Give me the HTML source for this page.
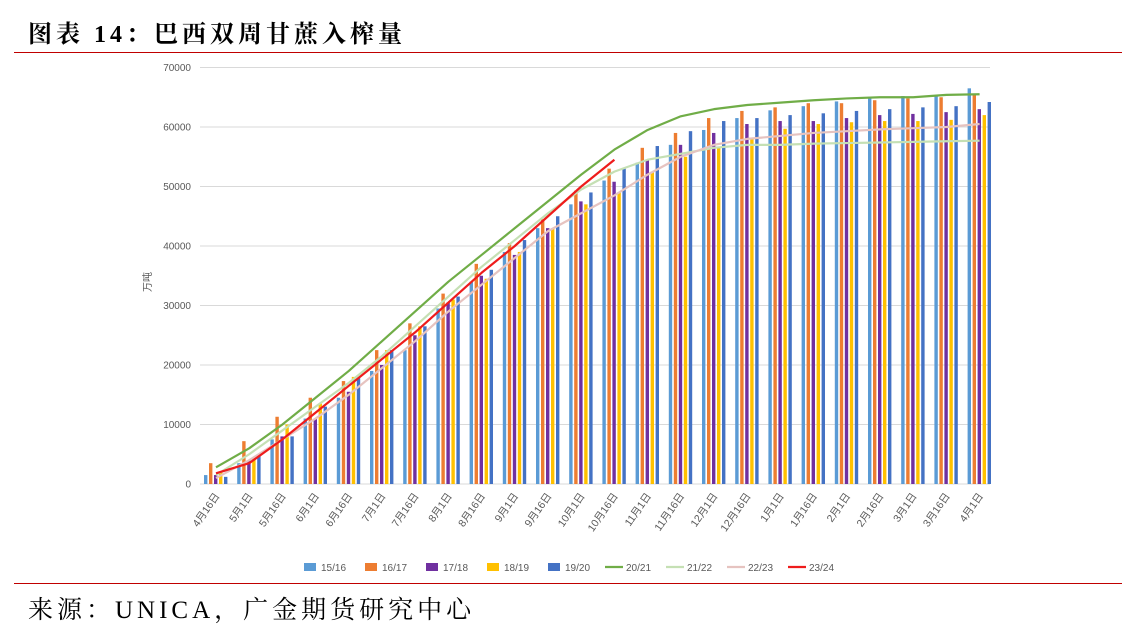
<!DOCTYPE html>
<html><head><meta charset="utf-8"><style>
body{margin:0;background:#fff;width:1140px;height:632px;overflow:hidden;position:relative;font-family:"Liberation Serif","Noto Serif CJK SC",serif}
.t{position:absolute;left:28px;top:14px;font-size:24px;color:#000;letter-spacing:4px;font-weight:bold}
.hl{position:absolute;left:14px;width:1108px;height:1px;background:#c00000}
.s{position:absolute;left:28px;top:590px;font-size:25px;color:#000;letter-spacing:4px}
</style></head><body>
<div class="t">图表 14：巴西双周甘蔗入榨量</div>
<div class="hl" style="top:52px"></div>
<div class="hl" style="top:583px"></div>
<div class="s">来源：UNICA，广金期货研究中心</div>
<svg id="c" width="1140" height="632" style="position:absolute;left:0;top:0" font-family="Liberation Sans, Noto Sans CJK SC, sans-serif"></svg>
<script>
const svg=document.getElementById('c');let h='';
const y0=484,py=59.5/10000,cx=i=>216+33.2*i,Y=v=>y0-v*py;
for(let k=0;k<=7;k++){const y=Y(k*10000);h+=`<line x1="200" x2="990" y1="${y}" y2="${y}" stroke="#d9d9d9" stroke-width="1"/>`;h+=`<text x="191" y="${y+3.5}" font-size="10" fill="#595959" text-anchor="end">${k*10000}</text>`;}
h+=`<text x="0" y="0" font-size="10" fill="#595959" transform="translate(151,282) rotate(-90)" text-anchor="middle">万吨</text>`;
const labs=['4月16日','5月1日','5月16日','6月1日','6月16日','7月1日','7月16日','8月1日','8月16日','9月1日','9月16日','10月1日','10月16日','11月1日','11月16日','12月1日','12月16日','1月1日','1月16日','2月1日','2月16日','3月1日','3月16日','4月1日'];
labs.forEach((l,i)=>{h+=`<text font-size="10.5" fill="#595959" text-anchor="end" transform="translate(${cx(i)+4},496) rotate(-55)">${l}</text>`;});
const bars=[
['#5b9bd5',[1500,3500,7500,11000,14500,19000,22500,29500,34000,39000,43000,47000,51000,54000,57000,59500,61500,62800,63500,64300,65000,65200,65300,66500]],
['#ed7d31',[3500,7200,11300,14500,17300,22500,27000,32000,37000,40500,44500,49300,53000,56500,59000,61500,62700,63300,64000,64000,64500,64800,65000,65500]],
['#7030a0',[1500,4000,8000,11000,15500,20000,25000,30500,35000,38500,43000,47500,50800,54500,57000,59000,60500,61000,61000,61500,62000,62200,62500,63000]],
['#ffc000',[2000,4500,10000,13500,18000,22500,26500,31000,34500,39000,43000,47000,49000,52500,55000,56500,58000,59700,60500,60800,61000,61000,61200,62000]],
['#4472c4',[1200,5000,8000,13000,17800,22500,26500,31500,36000,41000,45000,49000,53000,56800,59300,61000,61500,62000,62300,62700,63000,63300,63500,64200]]];
bars.forEach((b,j)=>b[1].forEach((v,i)=>{const x=cx(i)-12+j*5;h+=`<rect x="${x}" y="${Y(v)}" width="3.4" height="${v*py}" fill="${b[0]}"/>`;}));
const lines=[
['#70ad47',[2800,6000,10000,14500,19000,24000,29000,34000,38500,43000,47500,52000,56200,59500,61800,63000,63700,64100,64500,64800,65000,65000,65400,65500]],
['#c5e0b4',[1500,5000,9000,13000,17000,21500,26500,31500,36500,41000,45500,49500,52500,54500,55500,56500,57000,57000,57200,57300,57400,57500,57600,57700]],
['#e6c3c0',[1000,4000,7500,11000,15000,19500,24000,29000,33500,38000,42500,45500,48500,52000,55000,57000,58000,58500,59000,59300,59600,59800,60000,60500]],
['#ee1c1c',[1800,3500,7500,12000,16500,21000,25500,30500,35500,40000,45000,50000,54500]]];
lines.forEach(l=>{h+=`<polyline fill="none" stroke="${l[0]}" stroke-width="2.2" stroke-linejoin="round" points="${l[1].map((v,i)=>cx(i)+','+Y(v)).join(' ')}"/>`;});
const leg=[['15/16','#5b9bd5',0],['16/17','#ed7d31',0],['17/18','#7030a0',0],['18/19','#ffc000',0],['19/20','#4472c4',0],['20/21','#70ad47',1],['21/22','#c5e0b4',1],['22/23','#e6c3c0',1],['23/24','#ee1c1c',1]];
let lx=300;leg.forEach(g=>{if(g[2])h+=`<line x1="${lx}" x2="${lx+18}" y1="567" y2="567" stroke="${g[1]}" stroke-width="2.2"/>`;else h+=`<rect x="${lx+4}" y="563" width="12" height="8" fill="${g[1]}"/>`;h+=`<text x="${lx+21}" y="571" font-size="10" fill="#595959">${g[0]}</text>`;lx+=61;});
svg.innerHTML=h;
</script>
</body></html>
